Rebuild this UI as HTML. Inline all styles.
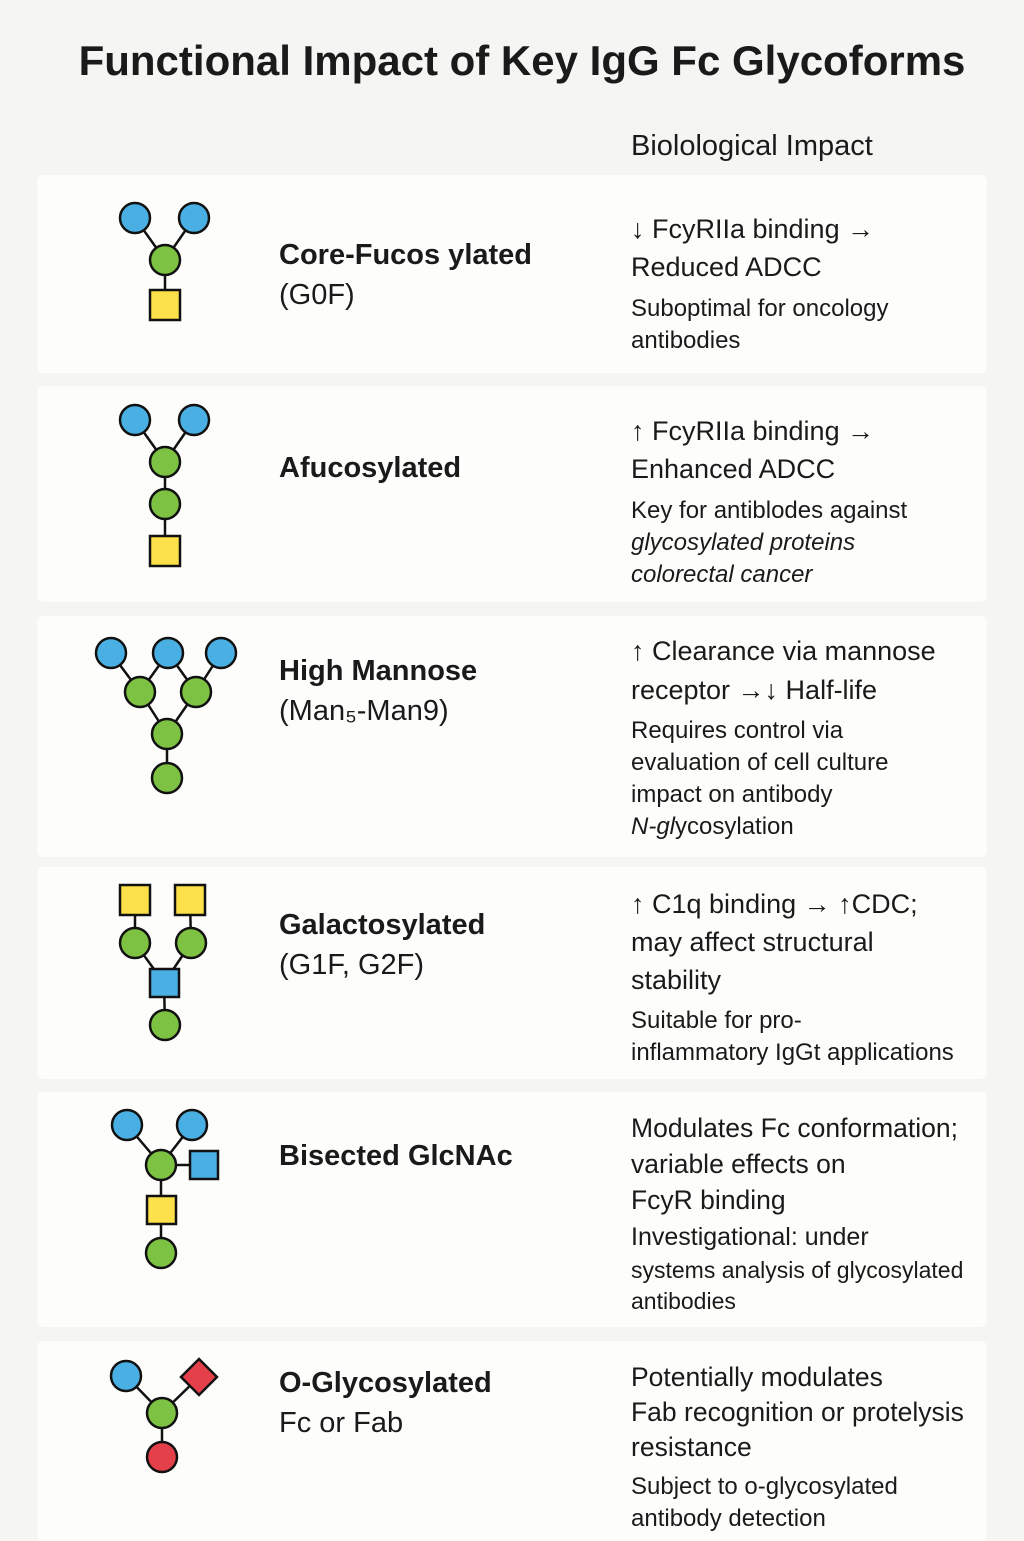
<!DOCTYPE html>
<html><head><meta charset="utf-8"><style>
body{margin:0;width:1024px;height:1536px;background:#f5f5f3;position:relative;overflow:hidden;font-family:"Liberation Sans",sans-serif;color:#1a1a1a}
.card{position:absolute;left:37px;width:950px;background:#fdfdfb;border-radius:6px}
.t{position:absolute;white-space:nowrap}
.n{left:279px;font-size:29px;line-height:40px}
.n b{font-weight:bold}
.i{left:631px;font-size:27px;line-height:38px}
.s{left:631px;font-size:24px;line-height:32px}
svg{position:absolute;left:0;top:0}
</style></head><body>
<div class="t" style="left:0;width:1044px;text-align:center;top:37px;font-size:42px;font-weight:bold">Functional Impact of Key IgG Fc Glycoforms</div>
<div class="t" style="left:631px;top:130px;font-size:29px">Biolological Impact</div>
<div class="card" style="top:175px;height:198px"></div>
<div class="card" style="top:386px;height:216px"></div>
<div class="card" style="top:616px;height:241px"></div>
<div class="card" style="top:867px;height:212px"></div>
<div class="card" style="top:1092px;height:235px"></div>
<div class="card" style="top:1341px;height:200px"></div>

<svg width="1024" height="1536" stroke="#111" stroke-width="2.5">
<g fill="none">
<line x1="135" y1="218" x2="165" y2="260"/><line x1="194" y1="218" x2="165" y2="260"/><line x1="165" y1="260" x2="165" y2="305"/>
<line x1="135" y1="420" x2="165" y2="462"/><line x1="194" y1="420" x2="165" y2="462"/><line x1="165" y1="462" x2="165" y2="551"/>
<line x1="111" y1="653" x2="140" y2="692"/><line x1="168" y1="653" x2="140" y2="692"/><line x1="168" y1="653" x2="196" y2="692"/><line x1="221" y1="653" x2="196" y2="692"/>
<line x1="140" y1="692" x2="167" y2="734"/><line x1="196" y1="692" x2="167" y2="734"/><line x1="167" y1="734" x2="167" y2="778"/>
<line x1="135" y1="900" x2="135" y2="943"/><line x1="190" y1="900" x2="191" y2="943"/><line x1="135" y1="943" x2="164" y2="983"/><line x1="191" y1="943" x2="164" y2="983"/><line x1="164" y1="983" x2="165" y2="1025"/>
<line x1="127" y1="1125" x2="161" y2="1165"/><line x1="192" y1="1125" x2="161" y2="1165"/><line x1="161" y1="1165" x2="204" y2="1165"/><line x1="161" y1="1165" x2="161" y2="1253"/>
<line x1="126" y1="1376" x2="162" y2="1413"/><line x1="199" y1="1377" x2="162" y2="1413"/><line x1="162" y1="1413" x2="162" y2="1457"/>
</g>
<g fill="#4ab0e4">
<circle cx="135" cy="218" r="15"/><circle cx="194" cy="218" r="15"/>
<circle cx="135" cy="420" r="15"/><circle cx="194" cy="420" r="15"/>
<circle cx="111" cy="653" r="15"/><circle cx="168" cy="653" r="15"/><circle cx="221" cy="653" r="15"/>
<rect x="150" y="969" width="29" height="28"/>
<circle cx="127" cy="1125" r="15"/><circle cx="192" cy="1125" r="15"/>
<rect x="190" y="1151" width="28" height="28"/>
<circle cx="126" cy="1376" r="15"/>
</g>
<g fill="#7dc242">
<circle cx="165" cy="260" r="15"/>
<circle cx="165" cy="462" r="15"/><circle cx="165" cy="504" r="15"/>
<circle cx="140" cy="692" r="15"/><circle cx="196" cy="692" r="15"/><circle cx="167" cy="734" r="15"/><circle cx="167" cy="778" r="15"/>
<circle cx="135" cy="943" r="15"/><circle cx="191" cy="943" r="15"/><circle cx="165" cy="1025" r="15"/>
<circle cx="161" cy="1165" r="15"/><circle cx="161" cy="1253" r="15"/>
<circle cx="162" cy="1413" r="15"/>
</g>
<g fill="#fce14a">
<rect x="150" y="290" width="30" height="30"/>
<rect x="150" y="536" width="30" height="30"/>
<rect x="120" y="885" width="30" height="30"/><rect x="175" y="885" width="30" height="30"/>
<rect x="147" y="1196" width="29" height="28"/>
</g>
<g fill="#e4404a">
<polygon points="199,1359 217,1377 199,1395 181,1377"/>
<circle cx="162" cy="1457" r="15"/>
</g>
</svg>

<div class="t n" style="top:235px"><b>Core-Fucos ylated</b><br>(G0F)</div>
<div class="t n" style="top:448px"><b>Afucosylated</b></div>
<div class="t n" style="top:651px"><b>High Mannose</b><br>(Man₅-Man9)</div>
<div class="t n" style="top:905px"><b>Galactosylated</b><br>(G1F, G2F)</div>
<div class="t n" style="top:1136px"><b>Bisected GlcNAc</b></div>
<div class="t n" style="top:1363px"><b>O-Glycosylated</b><br>Fc or Fab</div>

<div class="t i" style="top:210px">↓ FcyRIIa binding →<br>Reduced ADCC</div>
<div class="t s" style="top:293px">Suboptimal for oncology<br>antibodies</div>
<div class="t i" style="top:412px">↑ FcyRIIa binding →<br>Enhanced ADCC</div>
<div class="t s" style="top:495px">Key for antiblodes against<br><i>glycosylated proteins<br>colorectal cancer</i></div>
<div class="t i" style="top:632px;line-height:39px">↑ Clearance via mannose<br>receptor →↓ Half-life</div>
<div class="t s" style="top:715px">Requires control via<br>evaluation of cell culture<br>impact on antibody<br><i>N-gl</i>ycosylation</div>
<div class="t i" style="top:885px">↑ C1q binding → ↑CDC;<br>may affect structural<br>stability</div>
<div class="t s" style="top:1005px">Suitable for pro-<br>inflammatory IgGt applications</div>
<div class="t s" style="top:1110px;font-size:26.5px;line-height:36px">Modulates Fc conformation;<br>variable effects on<br>FcyR binding</div>
<div class="t s" style="top:1221px;font-size:25px">Investigational: under</div>
<div class="t s" style="top:1255px;font-size:23px;line-height:31px">systems analysis of glycosylated<br>antibodies</div>
<div class="t s" style="top:1360px;font-size:26.5px;line-height:35px">Potentially modulates<br>Fab recognition or protelysis<br>resistance</div>
<div class="t s" style="top:1471px">Subject to o-glycosylated<br>antibody detection</div>
</body></html>
